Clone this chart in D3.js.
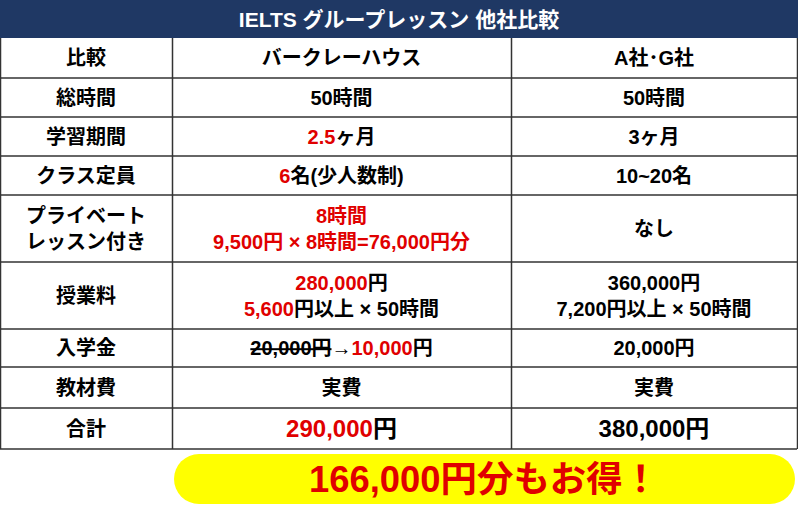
<!DOCTYPE html><html><head><meta charset="utf-8">
<script src="https://cdn.jsdelivr.net/npm/d3@7"></script>
<style>body{margin:0;background:#fff}text{font-family:"Liberation Sans","Noto Sans CJK JP",sans-serif;font-weight:bold}</style>
</head><body><svg id="c" width="798" height="510"></svg>
<script>
const title = "IELTS グループレッスン 他社比較";
const rowLabels = [["比較"],["総時間"],["学習期間"],["クラス定員"],["プライベート","レッスン付き"],["授業料"],["入学金"],["教材費"],["合計"]];
// segments: [text, style] style: r=red, k=black, s=strike black
const berkeley = [
 [[["バークレーハウス","k"]]],
 [[["50時間","k"]]],
 [[["2.5","r"],["ヶ月","k"]]],
 [[["6","r"],["名(少人数制)","k"]]],
 [[["8時間","r"]],[["9,500円 × 8時間=76,000円分","r"]]],
 [[["280,000","r"],["円","k"]],[["5,600","r"],["円以上 × 50時間","k"]]],
 [[["20,000円","s"],["→","k"],["10,000","r"],["円","k"]]],
 [[["実費","k"]]],
 [[["290,000","r"],["円","k"]]]
];
const others = [
 [[["A社･G社","k"]]],
 [[["50時間","k"]]],
 [[["3ヶ月","k"]]],
 [[["10~20名","k"]]],
 [[["なし","k"]]],
 [[["360,000円","k"]],[["7,200円以上 × 50時間","k"]]],
 [[["20,000円","k"]]],
 [[["実費","k"]]],
 [[["380,000円","k"]]]
];
const rowEdges = [38,78,117,156,195,262,329,367,408,449];
const colEdges = [0,172,511,797];
const banner = "166,000円分もお得！";

const svg = d3.select("#c");
svg.append("rect").attr("x",0).attr("y",0).attr("width",798).attr("height",38).attr("fill","#1f3864");
svg.append("text").attr("x",399).attr("y",27).attr("text-anchor","middle").attr("fill","#fff").attr("font-size",21).text(title);
// grid
rowEdges.slice(1).forEach(y=>svg.append("line").attr("x1",0).attr("x2",797).attr("y1",y).attr("y2",y).attr("stroke","#333").attr("stroke-width",1.5));
colEdges.forEach(x=>svg.append("line").attr("x1",x+0.5).attr("x2",x+0.5).attr("y1",38).attr("y2",449).attr("stroke","#333").attr("stroke-width",1.5));
const col = {r:"#e00000",k:"#000",s:"#000"};
function cell(lines,x,y0,y1,big){
  const n=lines.length, lh=26, fs=big?24:20;
  const cy=(y0+y1)/2;
  lines.forEach((segs,i)=>{
    const y=cy+(i-(n-1)/2)*lh+fs*0.36;
    const t=svg.append("text").attr("x",x).attr("y",y).attr("text-anchor","middle").attr("font-size",fs);
    segs.forEach(([s,st])=>{t.append("tspan").attr("fill",col[st]).attr("text-decoration",st==="s"?"line-through":null).text(s);});
  });
}
rowLabels.forEach((lab,i)=>{
  cell(lab.map(s=>[[s,"k"]]),(colEdges[0]+colEdges[1])/2,rowEdges[i],rowEdges[i+1],false);
  cell(berkeley[i],(colEdges[1]+colEdges[2])/2,rowEdges[i],rowEdges[i+1],i===8);
  cell(others[i],(colEdges[2]+colEdges[3])/2,rowEdges[i],rowEdges[i+1],i===8);
});
// strike-through line for crossed price (render fallback)
svg.append("rect").attr("x",174).attr("y",454).attr("width",621).attr("height",50).attr("rx",25).attr("fill","#ffff00");
svg.append("text").attr("x",484).attr("y",492).attr("text-anchor","middle").attr("fill","#e00000").attr("font-size",36).attr("textLength",350).attr("lengthAdjust","spacingAndGlyphs").text(banner);
</script></body></html>
